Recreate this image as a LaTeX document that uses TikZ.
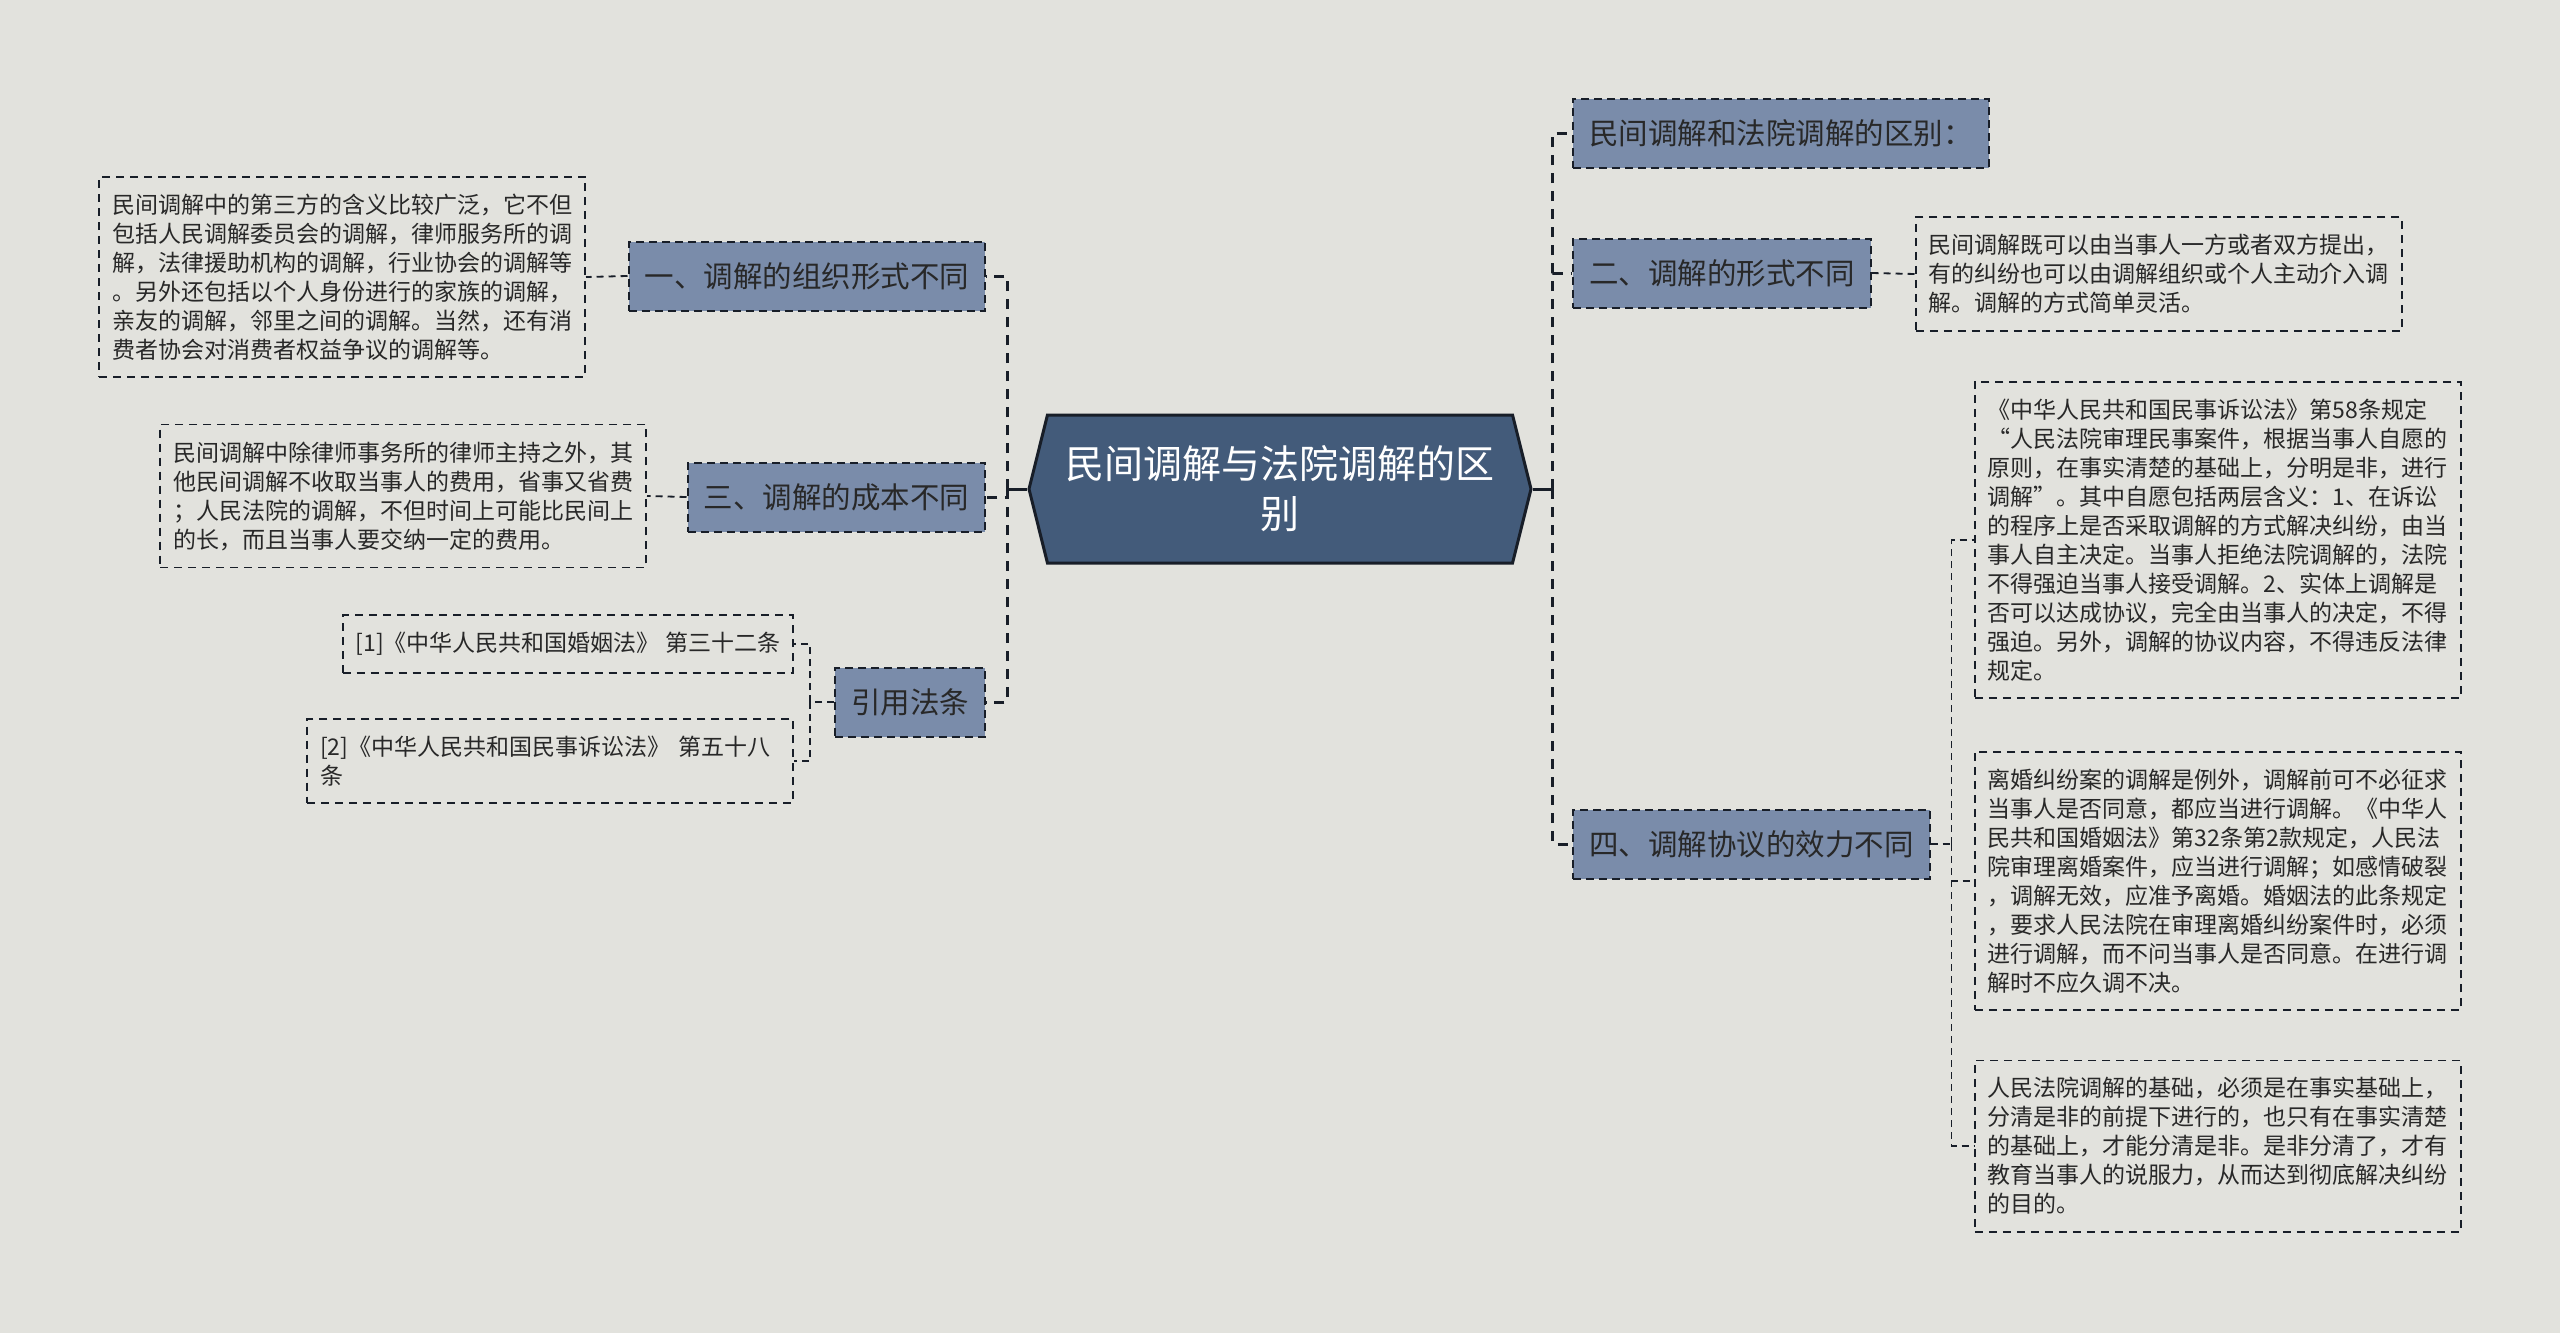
\documentclass[tikz,border=0pt]{standalone}
\usepackage{fontspec}
\setmainfont{Noto Sans CJK SC}
\usepackage{xcolor}
\usepackage{tikz}
\usetikzlibrary{shapes.symbols}
\definecolor{bgc}{RGB}{226,226,221}
\definecolor{rootc}{RGB}{67,91,122}
\definecolor{brc}{RGB}{122,140,170}
\definecolor{linec}{RGB}{24,30,40}
\definecolor{txtc}{RGB}{40,40,40}

\begin{document}
\begin{tikzpicture}[x=0.5pt,y=-0.5pt,
root/.style={signal,signal to=west and east,signal pointer angle=152,fill=rootc,draw=linec,line width=1.5pt,text=white,align=center,font=\fontsize{19.5}{25}\selectfont,minimum width=251pt,minimum height=74pt,inner sep=0pt},
branch/.style={fill=brc,draw=linec,line width=1pt,dash pattern=on 4pt off 2.5pt,text=txtc,font=\fontsize{14.75}{18}\selectfont,inner xsep=8pt,minimum height=34.5pt},
leaf/.style={draw=linec,line width=0.9pt,dash pattern=on 4pt off 3pt,text=txtc,font=\fontsize{11.5}{14.5}\selectfont,align=left,inner xsep=6.5pt,inner ysep=8.5pt},
trunk/.style={draw=linec,line width=1.5pt,dash pattern=on 5pt off 4pt},
twig/.style={draw=linec,line width=0.9pt,dash pattern=on 3.5pt off 2.5pt},
stub/.style={draw=linec,line width=1.5pt}]
\fill[bgc](0,0)rectangle(2560,1333);
\node[root](root)at(1280,489){民间调解与法院调解的区\\别};

\node[branch,anchor=east](b1)at(986,276){一、调解的组织形式不同};
\node[branch,anchor=east](b3)at(986,497){三、调解的成本不同};
\node[branch,anchor=east](b5)at(986,702){引用法条};
\node[branch,anchor=west](b0)at(1572,133){民间调解和法院调解的区别：};
\node[branch,anchor=west](b2)at(1572,273){二、调解的形式不同};
\node[branch,anchor=west](b4)at(1572,844){四、调解协议的效力不同};

\node[leaf,anchor=east](l1)at(586,277){民间调解中的第三方的含义比较广泛，它不但\\包括人民调解委员会的调解，律师服务所的调\\解，法律援助机构的调解，行业协会的调解等\\。另外还包括以个人身份进行的家族的调解，\\亲友的调解，邻里之间的调解。当然，还有消\\费者协会对消费者权益争议的调解等。};
\node[leaf,anchor=east](l3)at(647,496){民间调解中除律师事务所的律师主持之外，其\\他民间调解不收取当事人的费用，省事又省费\\；人民法院的调解，不但时间上可能比民间上\\的长，而且当事人要交纳一定的费用。};
\node[leaf,anchor=east](r1)at(794,644){[1]《中华人民共和国婚姻法》 第三十二条};
\node[leaf,anchor=east,text width=230pt](r2)at(794,761){[2]《中华人民共和国民事诉讼法》 第五十八\\条};
\node[leaf,anchor=west](l2)at(1915,274){民间调解既可以由当事人一方或者双方提出，\\有的纠纷也可以由调解组织或个人主动介入调\\解。调解的方式简单灵活。};
\node[leaf,anchor=west](l4a)at(1974,540){《中华人民共和国民事诉讼法》第58条规定\\“人民法院审理民事案件，根据当事人自愿的\\原则，在事实清楚的基础上，分明是非，进行\\调解”。其中自愿包括两层含义：1、在诉讼\\的程序上是否采取调解的方式解决纠纷，由当\\事人自主决定。当事人拒绝法院调解的，法院\\不得强迫当事人接受调解。2、实体上调解是\\否可以达成协议，完全由当事人的决定，不得\\强迫。另外，调解的协议内容，不得违反法律\\规定。};
\node[leaf,anchor=west](l4b)at(1974,881){离婚纠纷案的调解是例外，调解前可不必征求\\当事人是否同意，都应当进行调解。《中华人\\民共和国婚姻法》第32条第2款规定，人民法\\院审理离婚案件，应当进行调解；如感情破裂\\，调解无效，应准予离婚。婚姻法的此条规定\\，要求人民法院在审理离婚纠纷案件时，必须\\进行调解，而不问当事人是否同意。在进行调\\解时不应久调不决。};
\node[leaf,anchor=west](l4c)at(1974,1146){人民法院调解的基础，必须是在事实基础上，\\分清是非的前提下进行的，也只有在事实清楚\\的基础上，才能分清是非。是非分清了，才有\\教育当事人的说服力，从而达到彻底解决纠纷\\的目的。};

\draw[stub](root.west)--++(-10pt,0)coordinate(jl);
\draw[stub](root.east)--++(10pt,0)coordinate(jr);
\draw[trunk](jl)|-(b1.east) (jl)|-(b3.east) (jl)|-(b5.east);
\draw[trunk](jr)|-(b0.west) (jr)|-(b2.west) (jr)|-(b4.west);
\draw[twig](b1.west)--(l1.east);
\draw[twig](b3.west)--(l3.east);
\draw[twig](b5.west)--++(-12pt,0)coordinate(j5);
\draw[twig](j5)|-(r1.east) (j5)|-(r2.east);
\draw[twig](b2.east)--(l2.west);
\draw[twig](b4.east)--++(10.5pt,0)coordinate(j4);
\draw[twig](j4)|-(l4a.west) (j4)|-(l4b.west) (j4)|-(l4c.west);
\end{tikzpicture}
\end{document}
